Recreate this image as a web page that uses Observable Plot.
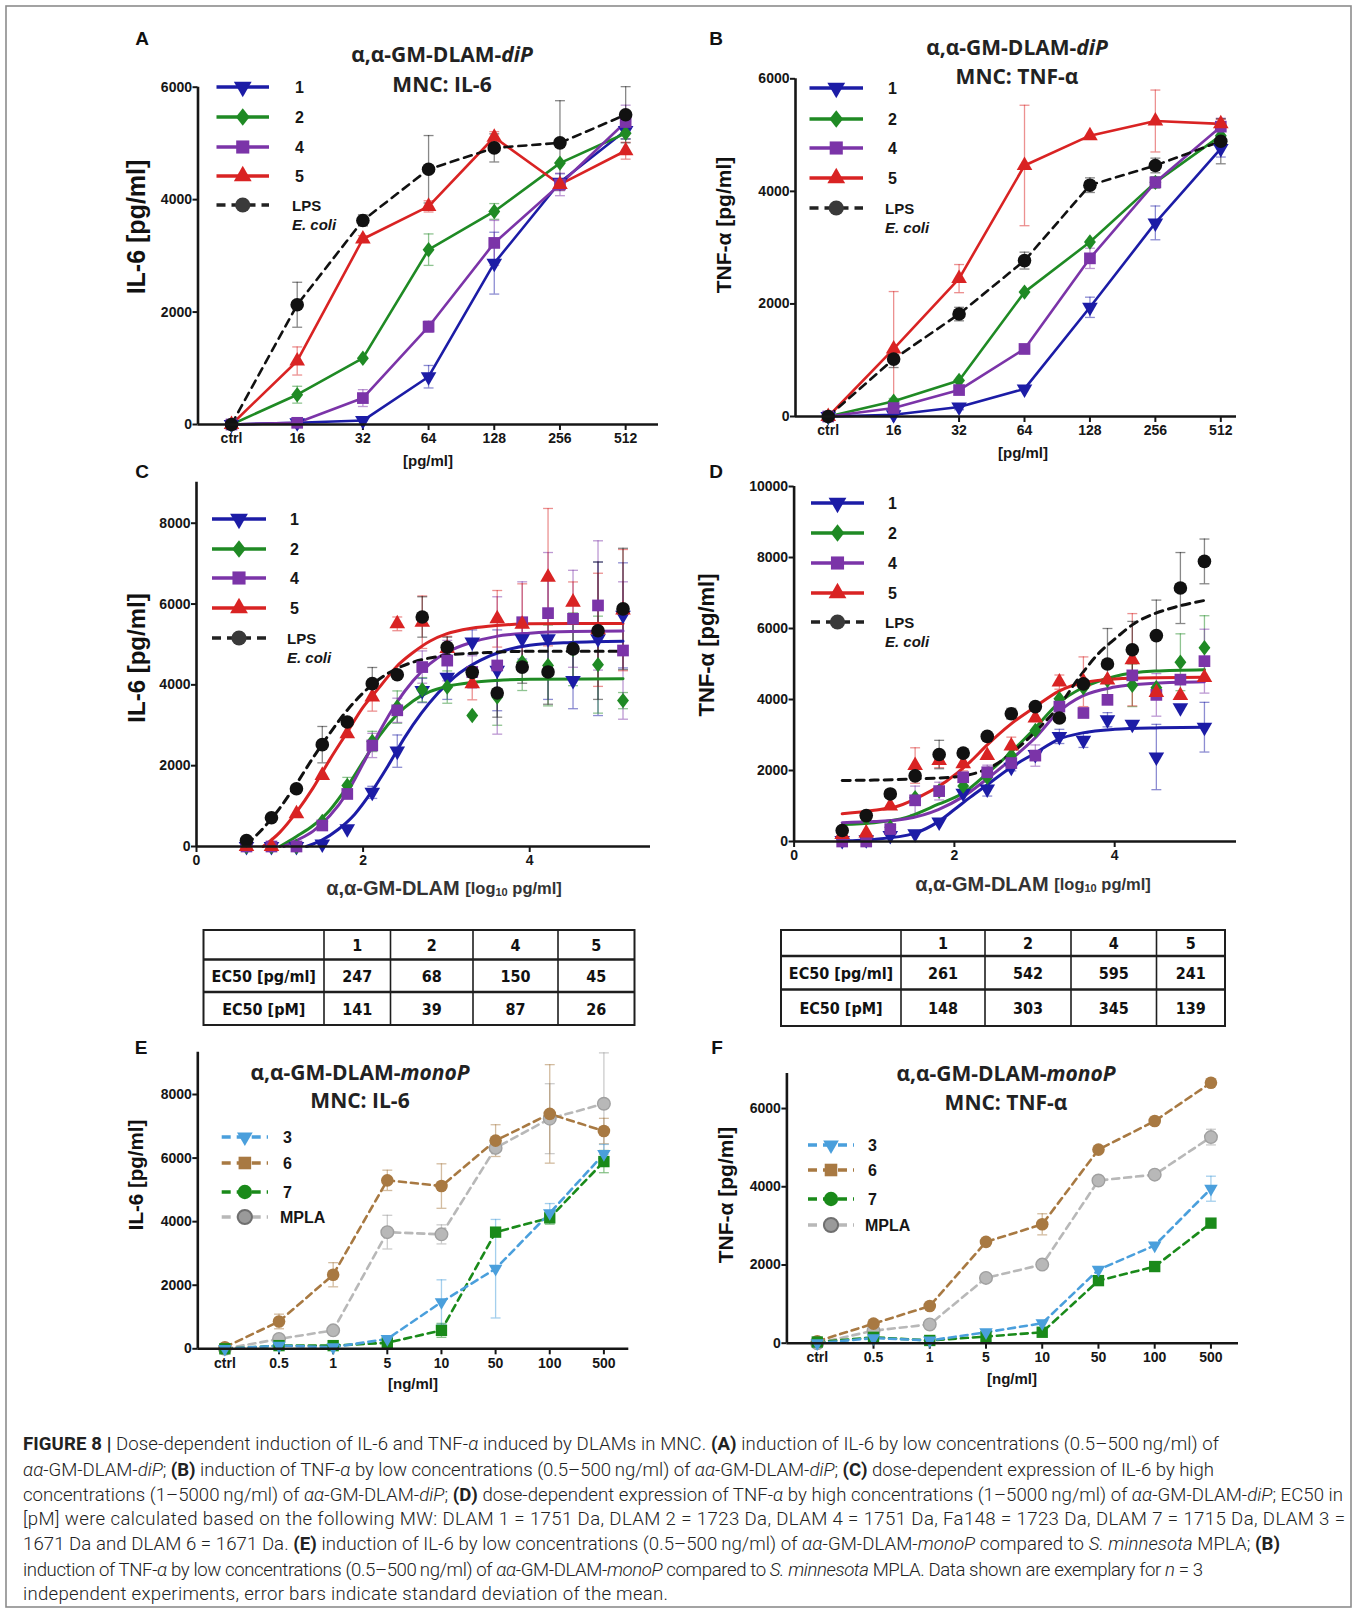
<!DOCTYPE html>
<html><head><meta charset="utf-8">
<script src="https://cdn.jsdelivr.net/npm/d3@7"></script>
<script src="https://cdn.jsdelivr.net/npm/@observablehq/plot@0.6"></script>
<style>
body{margin:0;background:#fff;}
#fig{position:relative;width:1357px;height:1612px;overflow:hidden;background:#fff;}
#fig svg.panel{position:absolute;}
</style></head><body><div id="fig"></div>
<script>
// ================= DATA =================
const lowDoses = ["ctrl","16","32","64","128","256","512"];
const monoDoses = ["ctrl","0.5","1","5","10","50","100","500"];
const logDoses = [0.6,0.9,1.2,1.51,1.81,2.11,2.41,2.71,3.01,3.31,3.61,3.91,4.22,4.52,4.82,5.12];
const diNames = ["1","2","4","5","LPS"];
const monoNames = ["3","6","7","MPLA"];

// Panel A: IL-6, low doses (diP)
const A_1   = [0,30,70,850,2870,4310,5230];
const A_2   = [0,530,1180,3110,3790,4650,5180];
const A_4   = [0,30,470,1740,3230,4270,5380];
const A_5   = [0,1130,3300,3880,5110,4270,4870];
const A_LPS = [0,2130,3630,4540,4920,5010,5510];
const A_1_sd   = [0,0,0,200,550,150,150];
const A_2_sd   = [0,150,0,280,140,0,100];
const A_4_sd   = [0,0,150,100,400,200,300];
const A_5_sd   = [0,250,60,100,100,100,150];
const A_LPS_sd = [0,400,100,600,250,750,500];

// Panel B: TNF-a, low doses (diP)
const B_1   = [0,30,170,490,1940,3440,4760];
const B_2   = [0,270,640,2210,3100,4160,4990];
const B_4   = [0,150,470,1200,2810,4160,5150];
const B_5   = [0,1200,2450,4460,4990,5250,5200];
const B_LPS = [0,1020,1820,2770,4110,4460,4890];
const B_1_sd   = [0,0,50,0,180,300,150];
const B_2_sd   = [0,50,0,0,0,100,100];
const B_4_sd   = [0,0,0,0,180,100,150];
const B_5_sd   = [0,1020,250,1070,0,550,80];
const B_LPS_sd = [0,150,120,150,130,130,400];

// Panel C: IL-6, high doses (log10 pg/ml)
const C_1   = [0,0,0,60,440,1340,2360,3860,4190,5060,4360,5140,5140,4110,5140,5720];
const C_2   = [0,0,0,620,1510,2600,3450,3880,3945,3240,3700,4560,4480,4880,4500,3610];
const C_4   = [0,0,0,520,1300,2500,3370,4440,4600,4320,4480,5550,5775,5635,5965,4850];
const C_5   = [0,0,810,1760,2790,3700,5510,5550,4900,4030,5635,5500,6665,6047,5362,5850];
const C_LPS = [150,710,1430,2520,3080,4030,4250,5680,4930,4310,3800,4440,4320,4890,5340,5880];
const C_1_sd   = [0,0,0,0,0,150,400,300,550,300,1000,500,1500,700,1900,1300];
const C_2_sd   = [0,0,0,0,200,250,400,300,400,0,700,700,1000,900,1200,200];
const C_4_sd   = [0,0,0,0,0,300,300,400,500,400,1700,1000,1500,1200,1600,1700];
const C_5_sd   = [0,0,0,0,0,350,170,650,300,400,700,1000,1700,500,1400,1500];
const C_LPS_sd = [0,0,0,450,0,400,0,500,250,0,600,400,800,700,1700,1500];
const C_fit_1 = [[1.32,0],[1.5,150],[1.7,420],[1.9,800],[2.1,1350],[2.3,2000],[2.5,2700],[2.7,3300],[2.9,3800],[3.1,4200],[3.4,4600],[3.7,4850],[4.0,4980],[4.5,5050],[5.12,5080]];
const C_fit_2 = [[1.0,0],[1.2,250],[1.4,520],[1.6,900],[1.8,1450],[2.0,2100],[2.2,2750],[2.4,3250],[2.6,3600],[2.8,3830],[3.0,3960],[3.3,4060],[3.6,4110],[4.0,4140],[5.12,4150]];
const C_fit_4 = [[1.05,0],[1.2,150],[1.4,380],[1.6,760],[1.8,1300],[2.0,2050],[2.2,2850],[2.4,3550],[2.6,4100],[2.8,4520],[3.0,4800],[3.3,5050],[3.6,5200],[4.0,5280],[4.5,5320],[5.12,5330]];
const C_fit_5 = [[0.8,0],[1.0,350],[1.2,850],[1.4,1450],[1.6,2150],[1.8,2800],[2.0,3450],[2.2,3950],[2.4,4450],[2.6,4800],[2.8,5080],[3.0,5260],[3.3,5400],[3.6,5470],[4.0,5510],[4.5,5520],[5.12,5520]];
const C_fit_LPS = [[0.6,50],[0.8,450],[1.0,950],[1.2,1550],[1.4,2200],[1.6,2800],[1.8,3350],[2.0,3800],[2.2,4150],[2.4,4400],[2.7,4620],[3.0,4730],[3.5,4800],[4.0,4830],[5.12,4830]];

// Panel D: TNF-a, high doses (log10 pg/ml)
const D_1   = [30,50,170,220,550,1360,1480,2090,2450,2960,2850,3430,3300,2380,3770,3220];
const D_2   = [300,650,400,1230,1420,1560,1810,2420,3130,4020,4330,4540,4400,4330,5050,5460];
const D_4   = [0,0,350,1160,1420,1810,1950,2210,2420,3800,3620,3990,4680,4130,4560,5080];
const D_5   = [200,240,1000,2140,2280,2190,2420,2690,3480,4490,4500,4550,5120,4200,4110,4620];
const D_LPS = [310,730,1340,1850,2450,2490,2960,3600,3800,3480,4440,5000,5400,5800,7140,7890];
const D_1_sd   = [0,0,0,0,0,0,200,100,0,200,200,200,0,920,0,700];
const D_2_sd   = [0,0,0,0,0,0,0,0,0,0,0,0,600,0,800,900];
const D_4_sd   = [0,0,0,400,250,0,200,0,300,0,0,0,0,600,0,900];
const D_5_sd   = [0,0,0,500,200,200,0,250,0,200,700,0,1300,0,0,0];
const D_LPS_sd = [0,0,0,0,400,0,0,150,0,0,0,1000,800,1000,1000,630];
const D_fit_1 = [[0.6,20],[1.0,60],[1.5,230],[1.8,560],[2.0,900],[2.2,1250],[2.4,1580],[2.7,2080],[3.0,2480],[3.3,2880],[3.6,3060],[4.0,3160],[4.5,3200],[5.12,3215]];
const D_fit_2 = [[0.6,480],[1.0,530],[1.4,680],[1.8,1050],[2.1,1350],[2.4,1900],[2.7,2500],[3.0,3180],[3.3,3900],[3.6,4330],[4.0,4650],[4.5,4800],[5.12,4840]];
const D_fit_4 = [[0.6,530],[1.0,560],[1.4,640],[1.8,900],[2.1,1250],[2.4,1750],[2.7,2300],[3.0,2900],[3.3,3650],[3.6,4100],[4.0,4350],[4.5,4460],[5.12,4500]];
const D_fit_5 = [[0.6,780],[1.0,880],[1.3,1000],[1.6,1300],[1.9,1700],[2.2,2250],[2.4,2700],[2.7,3300],[3.0,3780],[3.3,4230],[3.6,4470],[4.0,4580],[4.5,4615],[5.12,4625]];
const D_fit_LPS = [[0.6,1720],[1.0,1730],[1.5,1760],[2.0,1820],[2.3,1950],[2.5,2150],[2.8,2650],[3.1,3300],[3.3,3800],[3.55,4600],[3.8,5300],[4.0,5700],[4.25,6150],[4.5,6420],[4.75,6600],[5.12,6790]];

// Panel E: IL-6, monoP
const E_3    = [0,100,50,310,1470,2520,4270,6130];
const E_6    = [50,860,2330,5300,5120,6550,7390,6850];
const E_7    = [0,100,100,190,580,3670,4120,5890];
const E_MPLA = [0,310,580,3670,3600,6320,7240,7710];
const E_3_sd    = [0,0,0,0,700,1550,300,300];
const E_6_sd    = [0,230,380,320,700,500,1550,400];
const E_7_sd    = [0,0,0,0,220,0,200,350];
const E_MPLA_sd = [0,0,0,530,300,0,1100,1600];

// Panel F: TNF-a, monoP
const F_3    = [0,130,70,280,510,1880,2500,3950];
const F_6    = [50,500,950,2590,3040,4950,5680,6660];
const F_7    = [30,150,70,170,280,1600,1960,3070];
const F_MPLA = [0,320,480,1670,2010,4160,4310,5270];
const F_3_sd    = [0,0,0,0,0,0,0,320];
const F_6_sd    = [0,0,0,0,270,0,0,0];
const F_7_sd    = [0,0,0,0,0,0,0,0];
const F_MPLA_sd = [0,0,0,0,0,80,0,200];

// EC50 tables
const tableCols = ["1","2","4","5"];
const tableRows = ["EC50 [pg/ml]","EC50 [pM]"];
const C_ec50_pg = [247,68,150,45];
const C_ec50_pM = [141,39,87,26];
const D_ec50_pg = [261,542,595,241];
const D_ec50_pM = [148,303,345,139];

// ================= STYLE =================
const COL = {"1":"#1c1ca6","2":"#1f8a24","4":"#7b34a8","5":"#d92323","LPS":"#111111",
             "3":"#4a9fdc","6":"#a87942","7":"#1a8a1a","MPLA":"#b8b8b8"};
const SANS = "'Liberation Sans', Arial, sans-serif";
const TRI_DOWN = {draw(ctx, size){ const y = -Math.sqrt(size/(Math.sqrt(3)*3)); ctx.moveTo(0,-2*y); ctx.lineTo(-Math.sqrt(3)*y, y); ctx.lineTo(Math.sqrt(3)*y, y); ctx.closePath(); }};
const DIAMOND = {draw(ctx, size){ const h = Math.sqrt(size*1.3/2), w = h/1.3; ctx.moveTo(0,-h); ctx.lineTo(w,0); ctx.lineTo(0,h); ctx.lineTo(-w,0); ctx.closePath(); }};
const CAP = {draw(ctx, size){ const w = Math.sqrt(size)/2; ctx.moveTo(-w,0); ctx.lineTo(w,0); }};
const diStyle = {
  "1":{sym:TRI_DOWN, r:5.8}, "2":{sym:DIAMOND, r:5.4}, "4":{sym:"square", r:6.6},
  "5":{sym:"triangle", r:5.8}, "LPS":{sym:"circle", r:6.8, dash:"8,6"}
};
const monoStyle = {
  "3":{sym:TRI_DOWN, r:5.0, dash:"7,5"}, "6":{sym:"circle", r:6.3, dash:"7,5", legSym:"square"},
  "7":{sym:"square", r:6.4, dash:"7,5", legSym:"circle"}, "MPLA":{sym:"circle", r:6.3, dash:"7,5", stroke:"#a0a0a0"}
};

const fig = document.getElementById("fig");

function rowsOf(xs, ys, sds){ return ys.map((v,i)=>({x:xs[i], y:v, sd: sds ? sds[i] : 0})); }

function panel(cfg){
  const [L,T,W,H] = cfg.box, f = cfg.frame;
  const errMarks = [], lineMarks = [], dotMarks = [];
  cfg.series.forEach(s => {
    const rows = rowsOf(s.x, s.y, s.sd);
    const err = rows.filter(d => d.sd > 0);
    const ec = s.errColor || s.color;
    errMarks.push(Plot.ruleX(err, {x:"x", y1:d=>Math.max(0,d.y-d.sd), y2:d=>d.y+d.sd, stroke:ec, strokeOpacity:0.5, strokeWidth:1.3}));
    errMarks.push(Plot.dot(err, {x:"x", y:d=>d.y+d.sd, symbol:CAP, r:5.6, stroke:ec, strokeOpacity:0.5, strokeWidth:1.3, fill:"none"}));
    errMarks.push(Plot.dot(err.filter(d=>d.y-d.sd>0), {x:"x", y:d=>d.y-d.sd, symbol:CAP, r:5.6, stroke:ec, strokeOpacity:0.5, strokeWidth:1.3, fill:"none"}));
    if (s.fit) lineMarks.push(Plot.line(s.fit, {x:d=>d[0], y:d=>d[1], stroke:s.color, strokeWidth:3, strokeDasharray:s.dash, curve:"monotone-x"}));
    else lineMarks.push(Plot.line(rows, {x:"x", y:"y", stroke:s.color, strokeWidth:2.6, strokeDasharray:s.dash}));
    dotMarks.push(Plot.dot(rows, {x:"x", y:"y", symbol:s.sym, r:s.r, fill:s.color, stroke:s.stroke || "none", strokeWidth:1.4}));
  });
  const svg = Plot.plot({
    width: W, height: H,
    marginLeft: f.l - L, marginRight: L + W - f.r, marginTop: f.t - T, marginBottom: T + H - f.b,
    x: {type:"linear", domain: cfg.xDomain},
    y: {type:"linear", domain: cfg.yDomain},
    style: {background:"transparent", overflow:"visible", fontFamily:SANS, fontSize:"14px", fontWeight:"bold", color:"#161616"},
    marks: [
      Plot.axisX({ticks: cfg.xTicks, tickFormat: cfg.xFormat, tickSize:6, tickPadding:3, strokeWidth:2, label:null}),
      Plot.axisY({ticks: cfg.yTicks, tickFormat: d3.format("d"), tickSize:5, tickPadding:1, strokeWidth:2, label:null}),
      ...errMarks, ...lineMarks, ...dotMarks,
      Plot.ruleX([cfg.xDomain[0]], {stroke:"#161616", strokeWidth:2.6}),
      Plot.ruleY([cfg.yDomain[0]], {stroke:"#161616", strokeWidth:2.6})
    ]
  });
  svg.classList.add("panel");
  svg.style.left = L + "px"; svg.style.top = T + "px";
  fig.appendChild(svg);
}

function diSeries(xs, ys, sds, fits){
  return diNames.map((n,i)=>({name:n, x:xs, y:ys[i], sd:sds[i], fit: fits ? fits[i] : null, color:COL[n], ...diStyle[n]}));
}
function monoSeries(xs, ys, sds){
  const order = [3,1,2,0]; // draw MPLA first, then 6, 7, 3
  return order.map(i => { const n = monoNames[i]; return {name:n, x:xs, y:ys[i], sd:sds[i], color:COL[n], errColor: n==="MPLA" ? "#999" : COL[n], ...monoStyle[n]}; });
}
const lowIdx = lowDoses.map((_,i)=>i);
const monoIdx = monoDoses.map((_,i)=>i);

panel({box:[110,60,570,400], frame:{l:197.5,r:658,t:86.7,b:424}, xDomain:[-0.51,6.5], yDomain:[0,6000],
  xTicks: lowIdx, xFormat: i=>lowDoses[i], yTicks:[0,2000,4000,6000],
  series: diSeries(lowIdx, [A_1,A_2,A_4,A_5,A_LPS], [A_1_sd,A_2_sd,A_4_sd,A_5_sd,A_LPS_sd])});
panel({box:[690,50,570,400], frame:{l:795,r:1236,t:78.3,b:416}, xDomain:[-0.5,6.24], yDomain:[0,6000],
  xTicks: lowIdx, xFormat: i=>lowDoses[i], yTicks:[0,2000,4000,6000],
  series: diSeries(lowIdx, [B_1,B_2,B_4,B_5,B_LPS], [B_1_sd,B_2_sd,B_4_sd,B_5_sd,B_LPS_sd])});
panel({box:[110,470,570,400], frame:{l:196,r:650,t:481.7,b:846}, xDomain:[0,5.45], yDomain:[0,9015],
  xTicks:[0,2,4], xFormat: d3.format("d"), yTicks:[0,2000,4000,6000,8000],
  series: diSeries(logDoses, [C_1,C_2,C_4,C_5,C_LPS], [C_1_sd,C_2_sd,C_4_sd,C_5_sd,C_LPS_sd], [C_fit_1,C_fit_2,C_fit_4,C_fit_5,C_fit_LPS])});
panel({box:[690,470,570,400], frame:{l:793.6,r:1236,t:486,b:841}, xDomain:[0,5.52], yDomain:[0,10000],
  xTicks:[0,2,4], xFormat: d3.format("d"), yTicks:[0,2000,4000,6000,8000,10000],
  series: diSeries(logDoses, [D_1,D_2,D_4,D_5,D_LPS], [D_1_sd,D_2_sd,D_4_sd,D_5_sd,D_LPS_sd], [D_fit_1,D_fit_2,D_fit_4,D_fit_5,D_fit_LPS])});
panel({box:[110,1040,560,340], frame:{l:197.3,r:628.3,t:1051.7,b:1348.3}, xDomain:[-0.5,7.46], yDomain:[0,9331],
  xTicks: monoIdx, xFormat: i=>monoDoses[i], yTicks:[0,2000,4000,6000,8000],
  series: monoSeries(monoIdx, [E_3,E_6,E_7,E_MPLA], [E_3_sd,E_6_sd,E_7_sd,E_MPLA_sd])});
panel({box:[690,1060,570,320], frame:{l:786.4,r:1238,t:1073,b:1342.7}, xDomain:[-0.54,7.49], yDomain:[0,6896],
  xTicks: monoIdx, xFormat: i=>monoDoses[i], yTicks:[0,2000,4000,6000],
  series: monoSeries(monoIdx, [F_3,F_6,F_7,F_MPLA], [F_3_sd,F_6_sd,F_7_sd,F_MPLA_sd])});

// ================= OVERLAY (titles, legends, labels, tables, caption) =================
const ov = d3.select(fig).append("svg").attr("width",1357).attr("height",1612)
  .style("position","absolute").style("left","0px").style("top","0px").style("pointer-events","none");

ov.append("rect").attr("x",6).attr("y",6).attr("width",1345).attr("height",1601)
  .attr("fill","none").attr("stroke","#8c8c8c").attr("stroke-width",1.6);

function txt(x, y, parts, o={}){
  const t = ov.append("text").attr("x",x).attr("y",y)
    .attr("font-family", o.family || SANS).attr("font-size", o.size || 14)
    .attr("font-weight", o.weight || "bold").attr("fill", o.fill || "#161616")
    .attr("text-anchor", o.anchor || "start").attr("dominant-baseline","central");
  if (o.rotate) t.attr("transform", `rotate(${o.rotate},${x},${y})`);
  if (o.len) t.attr("textLength", o.len).attr("lengthAdjust","spacing");
  (Array.isArray(parts) ? parts : [parts]).forEach(p => {
    const sp = t.append("tspan").text(typeof p === "string" ? p : p.t);
    if (typeof p !== "string") {
      if (p.i) sp.attr("font-style","italic");
      if (p.size) sp.attr("font-size", p.size);
      if (p.dy) sp.attr("dy", p.dy);
      if (p.w) sp.attr("font-weight", p.w);
    }
  });
  return t;
}

// Panel letters
[["A",142,38],["B",716,38],["C",142,471],["D",716,471],["E",141,1047],["F",717,1047]]
  .forEach(([l,x,y]) => txt(x,y,l,{size:19, anchor:"middle", fill:"#111"}));

// Titles
const TT = {family:"'Open Sans', 'Liberation Sans', sans-serif", size:21, anchor:"middle", fill:"#222"};
txt(442,54,["α,α-GM-DLAM-",{t:"diP",i:true}],TT); txt(442,84,"MNC: IL-6",TT);
txt(1017,47,["α,α-GM-DLAM-",{t:"diP",i:true}],TT); txt(1017,76,"MNC: TNF-α",TT);
txt(360,1072,["α,α-GM-DLAM-",{t:"monoP",i:true}],TT); txt(360,1100,"MNC: IL-6",TT);
txt(1006,1073,["α,α-GM-DLAM-",{t:"monoP",i:true}],TT); txt(1006,1102,"MNC: TNF-α",TT);

// Y axis labels
const YL = (s) => ({size:s, anchor:"middle", rotate:-90, fill:"#111"});
txt(136,227,"IL-6 [pg/ml]",YL(25));
txt(723,225,"TNF-α [pg/ml]",YL(21));
txt(136,658,"IL-6 [pg/ml]",YL(24));
txt(706,645,"TNF-α  [pg/ml]",YL(22));
txt(135,1175,"IL-6 [pg/ml]",YL(20.5));
txt(725,1195,"TNF-α [pg/ml]",YL(21));

// X axis labels
const XL = {size:15, anchor:"middle", fill:"#161616"};
txt(428,460,"[pg/ml]",XL);
txt(1023,452,"[pg/ml]",XL);
txt(413,1383,"[ng/ml]",XL);
txt(1012,1378,"[ng/ml]",XL);
const logLabel = [{t:"α,α-GM-DLAM ",size:20},{t:"[log",size:16.5},{t:"10",size:11,dy:4},{t:" pg/ml]",size:16.5,dy:-4}];
txt(444,888,logLabel,{anchor:"middle", fill:"#333"});
txt(1033,884,logLabel,{anchor:"middle", fill:"#333"});

// Legends
function legend(x1, x2, lx, ys, names, styles, extra){
  names.forEach((n,i) => {
    const y = ys[i], st = styles[n], c = COL[n];
    const legColor = n === "LPS" ? "#222" : c;
    ov.append("line").attr("x1",x1).attr("x2",x2).attr("y1",y).attr("y2",y)
      .attr("stroke", legColor).attr("stroke-width",3.4).attr("stroke-dasharray", st.dash ? "9,6" : null);
    const s0 = st.legSym || st.sym;
    const sym = typeof s0 === "string" ? ({triangle:d3.symbolTriangle, square:d3.symbolSquare, circle:d3.symbolCircle})[s0] : s0;
    const r = st.r + 0.8;
    ov.append("path").attr("d", d3.symbol(sym, Math.PI*r*r)()).attr("transform",`translate(${(x1+x2)/2},${y})`)
      .attr("fill", n === "LPS" ? "#3a3a3a" : (n === "MPLA" ? "#9a9a9a" : c))
      .attr("stroke", n === "MPLA" ? "#6f6f6f" : "none").attr("stroke-width", 2);
    if (n === "LPS") {
      txt(lx, y, "LPS", {size:15});
      txt(lx, y + 19, [{t:"E. coli", i:true}], {size:15});
    } else {
      txt(lx + (n.length === 1 ? 3 : 0), y, n, {size: extra || 16});
    }
  });
}
legend(216.5,269,292,[87,117,147,176,205],diNames,diStyle);
legend(809.5,863,885,[88,119,148,178,208],diNames,diStyle);
legend(212,266,287,[519,549,578,608,638],diNames,diStyle);
legend(811,864,885,[503,533,563,593,622],diNames,diStyle);
legend(221.7,268,280,[1137,1163,1192,1217],monoNames,monoStyle);
legend(808,854,865,[1145,1170,1199,1225],monoNames,monoStyle);

// Tables
function table(x0, y0, colW, rowH, pg, pM){
  const W = d3.sum(colW), H = d3.sum(rowH);
  const g = ov.append("g");
  const xs = [x0]; colW.forEach(w => xs.push(xs[xs.length-1]+w));
  const ys = [y0]; rowH.forEach(h => ys.push(ys[ys.length-1]+h));
  g.append("rect").attr("x",x0).attr("y",y0).attr("width",W).attr("height",H).attr("fill","none").attr("stroke","#1e1e1e").attr("stroke-width",2);
  xs.slice(1,-1).forEach(x => g.append("line").attr("x1",x).attr("x2",x).attr("y1",y0).attr("y2",y0+H).attr("stroke","#1e1e1e").attr("stroke-width",1.6));
  ys.slice(1,-1).forEach(y => g.append("line").attr("x1",x0).attr("x2",x0+W).attr("y1",y).attr("y2",y).attr("stroke","#1e1e1e").attr("stroke-width",2.6));
  const TF = {family:"'Liberation Sans Narrow', 'DejaVu Sans Condensed', sans-serif", size:16, anchor:"middle", fill:"#111", weight:"bold"};
  const cells = [["", ...tableCols],[tableRows[0], ...pg.map(String)],[tableRows[1], ...pM.map(String)]];
  cells.forEach((row,ri) => row.forEach((c,ci) => {
    if (c) txt((xs[ci]+xs[ci+1])/2, (ys[ri]+ys[ri+1])/2, c, TF);
  }));
}
table(203.5, 930, [120.5,66.5,82.5,85,76.5], [29.5,32.5,33], C_ec50_pg, C_ec50_pM);
table(781, 930, [120,84,86,85.5,68.5], [26,33.5,36.5], D_ec50_pg, D_ec50_pM);

// Caption
const capLines = [
 "**FIGURE 8 |** Dose-dependent induction of IL-6 and TNF-_α_ induced by DLAMs in MNC. **(A)** induction of IL-6 by low concentrations (0.5–500\u2009ng/ml) of",
 "_αα_-GM-DLAM-_diP_; **(B)** induction of TNF-_α_ by low concentrations (0.5–500\u2009ng/ml) of _αα_-GM-DLAM-_diP_; **(C)** dose-dependent expression of IL-6 by high",
 "concentrations (1–5000\u2009ng/ml) of _αα_-GM-DLAM-_diP_; **(D)** dose-dependent expression of TNF-_α_ by high concentrations (1–5000\u2009ng/ml) of _αα_-GM-DLAM-_diP_; EC50 in",
 "[pM] were calculated based on the following MW: DLAM 1 = 1751 Da, DLAM 2 = 1723 Da, DLAM 4 = 1751 Da, Fa148 = 1723 Da, DLAM 7 = 1715 Da, DLAM 3 =",
 "1671 Da and DLAM 6 = 1671 Da. **(E)** induction of IL-6 by low concentrations (0.5–500\u2009ng/ml) of _αα_-GM-DLAM-_monoP_ compared to _S. minnesota_ MPLA; **(B)**",
 "induction of TNF-_α_ by low concentrations (0.5–500\u2009ng/ml) of _αα_-GM-DLAM-_monoP_ compared to _S. minnesota_ MPLA. Data shown are exemplary for _n_ = 3",
 "independent experiments, error bars indicate standard deviation of the mean."
];
const capY = [1444,1470,1495,1519,1544,1570,1594];
const capLen = [1196,1191,1320,1322,1257,1180,645];
capLines.forEach((line,i) => {
  const parts = line.split(/(\*\*[^*]+\*\*|_[^_]+_)/).filter(s => s.length).map(s => {
    if (s.startsWith("**")) return {t:s.slice(2,-2), w:"bold"};
    if (s.startsWith("_") && s.endsWith("_") && s.length > 1) return {t:s.slice(1,-1), i:true};
    return {t:s};
  });
  txt(23, capY[i], parts, {family:"Roboto, 'Liberation Sans', sans-serif", size:18.6, weight:300, fill:"#222", len: capLen[i]});
});
</script></body></html>
